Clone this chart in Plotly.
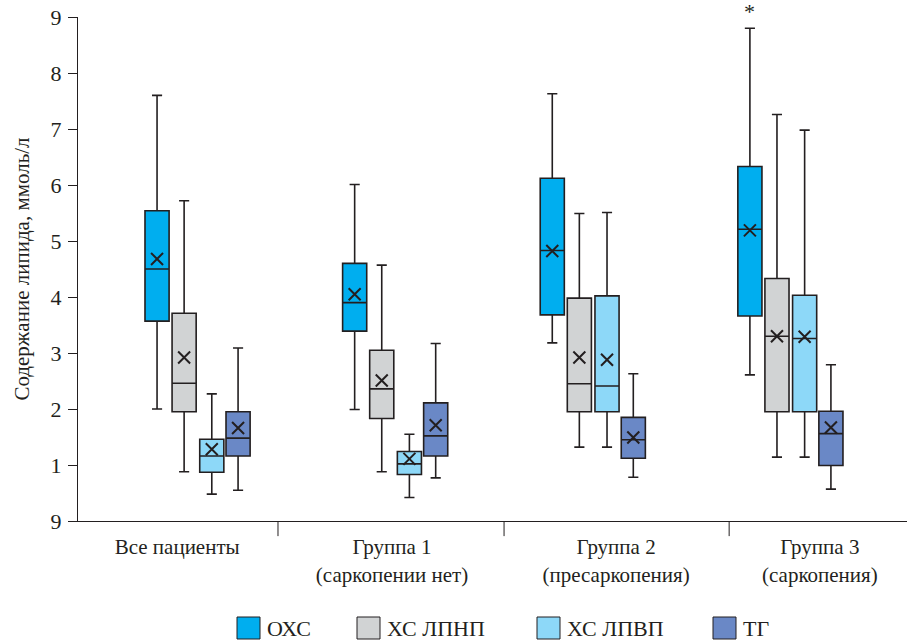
import plotly.graph_objects as go

# ---------------- data ----------------
groups = ["Все пациенты", "Группа 1<br>(саркопении нет)", "Группа 2<br>(пресаркопения)", "Группа 3<br>(саркопения)"]
series = ["ОХС", "ХС ЛПНП", "ХС ЛПВП", "ТГ"]

ohs_low = [2.00, 1.99, 3.18, 2.61]
ohs_q1 = [3.57, 3.39, 3.68, 3.66]
ohs_med = [4.50, 3.90, 4.83, 5.21]
ohs_q3 = [5.54, 4.60, 6.12, 6.33]
ohs_high = [7.60, 6.01, 7.63, 8.80]
ohs_mean = [4.68, 4.05, 4.82, 5.19]

ldl_low = [0.88, 0.88, 1.32, 1.14]
ldl_q1 = [1.95, 1.83, 1.95, 1.95]
ldl_med = [2.46, 2.36, 2.45, 3.30]
ldl_q3 = [3.71, 3.05, 3.98, 4.33]
ldl_high = [5.72, 4.57, 5.49, 7.26]
ldl_mean = [2.92, 2.51, 2.92, 3.30]

hdl_low = [0.48, 0.42, 1.32, 1.14]
hdl_q1 = [0.87, 0.83, 1.95, 1.95]
hdl_med = [1.16, 1.02, 2.41, 3.26]
hdl_q3 = [1.46, 1.24, 4.02, 4.03]
hdl_high = [2.27, 1.55, 5.51, 6.98]
hdl_mean = [1.28, 1.11, 2.88, 3.29]

tg_low = [0.55, 0.77, 0.78, 0.57]
tg_q1 = [1.16, 1.16, 1.12, 0.99]
tg_med = [1.48, 1.52, 1.45, 1.56]
tg_q3 = [1.95, 2.11, 1.85, 1.96]
tg_high = [3.09, 3.17, 2.63, 2.79]
tg_mean = [1.66, 1.71, 1.49, 1.67]

y_tickvals = [0, 1, 2, 3, 4, 5, 6, 7, 8, 9]
y_ticktext = ["9", "1", "2", "3", "4", "5", "6", "7", "8", "9"]

# ---------------- style ----------------
colors = ["#00AEEF", "#D1D3D4", "#8DD8F8", "#6A88C6"]
LINE = "#231F20"
FONT = "Times New Roman"
offsets = [-0.205, -0.068, 0.072, 0.205]
box_w = 0.122

PL, PR, PT, PB = 78, 907, 17, 521
def px_x(p):
    return (p - PL) / (PR - PL)
def px_y(p):
    return (PB - p) / (PB - PT)

data_sets = [
    (ohs_low, ohs_q1, ohs_med, ohs_q3, ohs_high, ohs_mean),
    (ldl_low, ldl_q1, ldl_med, ldl_q3, ldl_high, ldl_mean),
    (hdl_low, hdl_q1, hdl_med, hdl_q3, hdl_high, hdl_mean),
    (tg_low, tg_q1, tg_med, tg_q3, tg_high, tg_mean),
]

fig = go.Figure()
for i, (name, (lo, q1, md, q3, hi, mn)) in enumerate(zip(series, data_sets)):
    xs = [g + 1 + offsets[i] for g in range(len(groups))]
    fig.add_trace(go.Box(
        name=name, x=xs, lowerfence=lo, q1=q1, median=md, q3=q3, upperfence=hi,
        width=box_w, whiskerwidth=0.42, fillcolor=colors[i],
        line=dict(color=LINE, width=1.6), boxpoints=False, showlegend=False,
    ))
    fig.add_trace(go.Scatter(
        x=xs, y=mn, mode="markers", showlegend=False, hoverinfo="skip",
        marker=dict(symbol="x-thin", size=12, line=dict(width=2, color=LINE), color=LINE),
    ))

# legend: swatch + label
legend_sw = [237, 357, 537, 713]
for i, name in enumerate(series):
    x0 = legend_sw[i]
    fig.add_shape(type="rect", xref="paper", yref="paper",
                  x0=px_x(x0), x1=px_x(x0 + 23), y0=px_y(617), y1=px_y(639),
                  fillcolor=colors[i], line=dict(color=LINE, width=1))
    fig.add_annotation(xref="paper", yref="paper", x=px_x(x0 + 28), y=px_y(628),
                       xanchor="left", yanchor="middle", showarrow=False, text=name,
                       font=dict(family=FONT, size=22))

# category dividers
for xd in [1.407, 2.551, 3.69]:
    fig.add_shape(type="line", xref="x", yref="paper", x0=xd, x1=xd, y0=0, y1=-0.030,
                  line=dict(color=LINE, width=1))

# asterisk above group 3 total cholesterol
fig.add_annotation(x=4 + offsets[0], y=9.0, yref="y", text="*", showarrow=False,
                   yanchor="bottom", yshift=-9, font=dict(family=FONT, size=22))

fig.update_layout(
    width=907, height=642,
    margin=dict(l=PL, r=907 - PR, t=PT, b=642 - PB),
    plot_bgcolor="white", paper_bgcolor="white",
    font=dict(family=FONT, color=LINE),
    boxmode="overlay",
    showlegend=False,
    xaxis=dict(range=[0.395, 4.59], showgrid=False, zeroline=False, automargin=False,
               showline=True, linecolor=LINE, linewidth=1,
               tickmode="array", tickvals=[0.897, 1.984, 3.118, 4.149], ticktext=groups,
               ticks="", ticklabelstandoff=7,
               tickfont=dict(family=FONT, size=21)),
    yaxis=dict(range=[0, 9], showgrid=False, zeroline=False, automargin=False,
               showline=True, linecolor=LINE, linewidth=1,
               tickmode="array", tickvals=y_tickvals, ticktext=y_ticktext,
               ticks="outside", ticklen=9, tickcolor=LINE, ticklabelstandoff=2,
               tickfont=dict(family=FONT, size=22),
               title=dict(text="Содержание липида, ммоль/л",
                          font=dict(family=FONT, size=21))),
)

fig.write_html("out.html", post_script="document.body.style.margin='0px';",
               config={"displayModeBar": False})
